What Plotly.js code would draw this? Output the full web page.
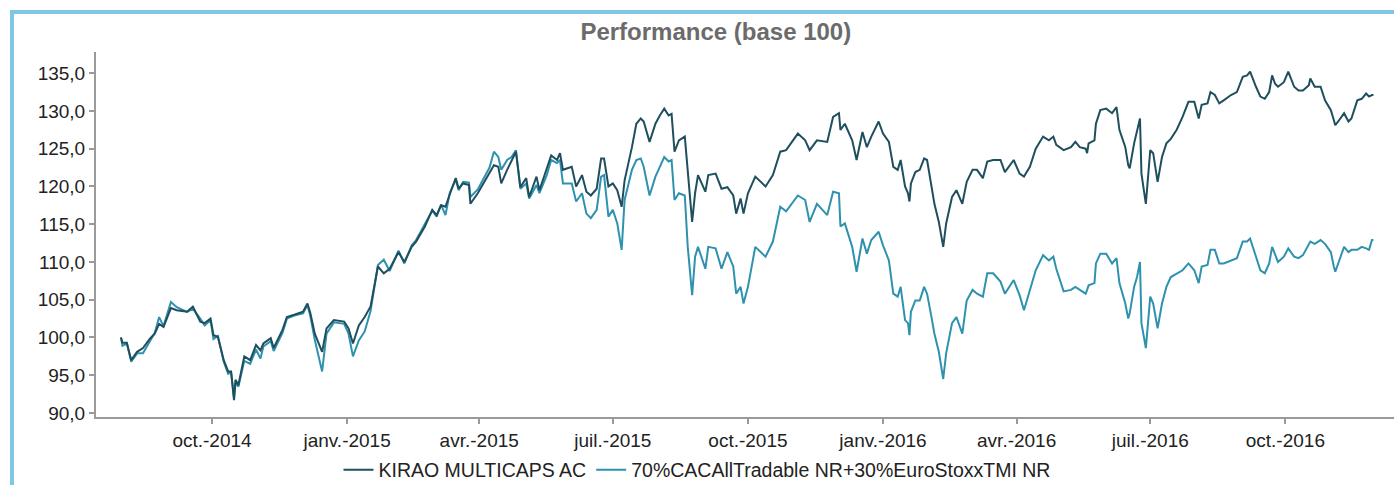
<!DOCTYPE html>
<html>
<head>
<meta charset="utf-8">
<script src="https://cdn.plot.ly/plotly-3.0.1.min.js"></script>
<style>
  html, body { margin: 0; padding: 0; background: #ffffff; }
  #wrap { position: relative; width: 1394px; height: 485px; overflow: hidden; }
  #chart { position: absolute; left: 0; top: 0; width: 1394px; height: 485px; }
  #frame { position: absolute; left: 10px; top: 10px; width: 1400px; height: 490px;
           border-left: 4px solid #80c8e2; border-top: 4px solid #80c8e2; pointer-events: none; }
</style>
</head>
<body>
<div id="wrap">
  <div id="chart"></div>
  <div id="frame"></div>
</div>
<script>
const titleText = "Performance (base 100)";
const seriesNames = ["KIRAO MULTICAPS AC", "70%CACAllTradable NR+30%EuroStoxxTMI NR"];

const dates = [
"2014-07-31","2014-08-01","2014-08-04","2014-08-07","2014-08-11","2014-08-15","2014-08-20","2014-08-23","2014-08-26","2014-08-29",
"2014-09-03","2014-09-07","2014-09-14","2014-09-18","2014-09-23","2014-09-26","2014-09-30","2014-10-02","2014-10-05","2014-10-09",
"2014-10-12","2014-10-14","2014-10-16","2014-10-17","2014-10-19","2014-10-23","2014-10-27","2014-10-31","2014-11-03","2014-11-05",
"2014-11-10","2014-11-12","2014-11-18","2014-11-21","2014-11-26","2014-12-02","2014-12-05","2014-12-07","2014-12-10","2014-12-15",
"2014-12-18","2014-12-23","2014-12-30","2015-01-02","2015-01-05","2015-01-09","2015-01-13","2015-01-17","2015-01-22","2015-01-26",
"2015-01-30","2015-02-05","2015-02-09","2015-02-14","2015-02-17","2015-02-23","2015-02-28","2015-03-03","2015-03-06","2015-03-09",
"2015-03-12","2015-03-16","2015-03-18","2015-03-21","2015-03-25","2015-03-26","2015-03-31","2015-04-08","2015-04-11","2015-04-14",
"2015-04-16","2015-04-20","2015-04-23","2015-04-26","2015-04-29","2015-05-03","2015-05-05","2015-05-10","2015-05-12","2015-05-17",
"2015-05-20","2015-05-24","2015-05-26","2015-05-28","2015-06-03","2015-06-06","2015-06-10","2015-06-13","2015-06-16","2015-06-20",
"2015-06-23","2015-06-25","2015-06-28","2015-07-01","2015-07-04","2015-07-07","2015-07-09","2015-07-14","2015-07-17","2015-07-20",
"2015-07-22","2015-07-26","2015-07-30","2015-08-02","2015-08-05","2015-08-08","2015-08-10","2015-08-12","2015-08-15","2015-08-19",
"2015-08-21","2015-08-24","2015-08-26","2015-08-28","2015-09-02","2015-09-04","2015-09-09","2015-09-13","2015-09-17","2015-09-21",
"2015-09-23","2015-09-26","2015-09-28","2015-10-01","2015-10-06","2015-10-13","2015-10-18","2015-10-23","2015-10-27","2015-11-04",
"2015-11-09","2015-11-12","2015-11-17","2015-11-24","2015-11-28","2015-12-02","2015-12-03","2015-12-06","2015-12-11","2015-12-14",
"2015-12-18","2015-12-21","2015-12-24","2015-12-29","2016-01-01","2016-01-05","2016-01-08","2016-01-11","2016-01-13","2016-01-16",
"2016-01-18","2016-01-19","2016-01-20","2016-01-23","2016-01-26","2016-01-29","2016-01-31","2016-02-03","2016-02-05","2016-02-08",
"2016-02-11","2016-02-13","2016-02-17","2016-02-20","2016-02-24","2016-02-27","2016-03-02","2016-03-05","2016-03-09","2016-03-12",
"2016-03-16","2016-03-21","2016-03-24","2016-03-30","2016-04-03","2016-04-06","2016-04-10","2016-04-14","2016-04-19","2016-04-23",
"2016-04-26","2016-04-28","2016-05-03","2016-05-08","2016-05-11","2016-05-14","2016-05-18","2016-05-19","2016-05-20","2016-05-24",
"2016-05-25","2016-05-28","2016-06-01","2016-06-05","2016-06-08","2016-06-10","2016-06-14","2016-06-16","2016-06-17","2016-06-20",
"2016-06-22","2016-06-24","2016-06-25","2016-06-28","2016-07-01","2016-07-03","2016-07-06","2016-07-09","2016-07-12","2016-07-15",
"2016-07-19","2016-07-23","2016-07-27","2016-07-31","2016-08-03","2016-08-05","2016-08-09","2016-08-11","2016-08-14","2016-08-17",
"2016-08-20","2016-08-25","2016-08-29","2016-09-02","2016-09-05","2016-09-07","2016-09-11","2016-09-14","2016-09-17","2016-09-20",
"2016-09-22","2016-09-24","2016-09-26","2016-09-30","2016-10-03","2016-10-07","2016-10-10","2016-10-13","2016-10-17","2016-10-18",
"2016-10-21","2016-10-25","2016-10-28","2016-11-01","2016-11-03","2016-11-04","2016-11-06","2016-11-10","2016-11-13","2016-11-15",
"2016-11-19","2016-11-22","2016-11-25","2016-11-27","2016-11-29","2016-11-30"
];

const kirao = [
100.0,99.3,99.3,97.0,98.1,98.6,99.9,100.5,101.8,101.4,
103.9,103.6,103.4,104.1,102.1,101.9,102.5,100.3,100.1,97.0,
95.5,95.5,91.7,94.4,93.7,97.5,97.0,99.0,98.3,99.2,
99.9,98.6,101.0,102.7,103.0,103.4,104.5,103.2,100.5,98.1,
101.2,102.3,102.1,101.2,99.2,101.6,102.7,104.1,109.4,108.5,
109.1,111.3,110.0,112.0,112.7,114.7,116.9,116.2,117.5,117.3,
119.0,121.1,119.7,120.4,120.2,117.7,119.1,121.7,122.8,122.6,
120.4,122.2,123.5,124.6,119.9,121.1,118.6,121.3,119.5,122.2,
124.1,123.5,124.4,122.2,122.6,120.0,121.5,119.3,118.8,119.7,
123.7,123.7,120.0,120.4,119.5,117.3,120.8,125.2,128.3,129.0,
128.6,125.9,128.3,129.4,130.3,129.4,129.6,124.6,126.1,126.6,
122.2,115.3,119.1,121.5,119.3,121.5,121.7,119.7,119.9,118.8,
116.4,118.4,116.4,119.1,121.3,120.0,121.5,124.6,124.8,127.0,
126.1,124.8,126.1,125.9,129.2,129.7,127.5,128.3,126.1,123.5,
127.2,125.2,126.6,128.6,127.0,125.9,122.6,122.2,123.5,120.0,
119.1,118.0,120.4,121.9,122.2,123.7,123.5,120.2,117.7,115.3,
112.0,115.1,118.6,119.5,117.7,120.6,122.2,122.2,121.1,123.3,
123.5,123.5,121.9,123.5,121.7,121.3,122.6,125.0,126.6,126.1,
126.6,125.5,124.8,125.2,125.9,125.2,125.0,124.4,125.7,126.1,
128.3,130.1,130.3,129.7,130.5,127.5,125.2,122.8,122.4,125.7,
127.5,129.0,121.7,117.7,124.8,124.4,120.6,123.9,125.7,126.3,
127.5,129.2,131.2,131.2,129.0,130.8,131.0,132.5,132.1,131.0,
131.4,132.1,132.5,134.5,134.7,135.2,133.2,131.9,131.6,132.5,
134.7,133.6,133.2,133.8,135.2,133.2,132.7,132.7,133.4,134.3,
133.2,133.2,131.4,130.1,128.8,128.1,128.6,129.7,128.6,129.0,
131.4,131.6,132.3,131.9,132.1,132.1
];

const benchmark = [
100.0,98.9,99.2,96.8,97.9,97.9,99.6,100.6,102.7,101.5,
104.7,104.0,103.4,103.8,102.5,101.6,102.3,99.8,100.2,96.8,
95.2,95.4,92.0,94.0,93.5,96.9,96.5,98.4,97.2,98.8,
99.5,98.2,100.6,102.5,102.9,103.2,104.3,102.8,99.7,95.5,
100.5,102.0,101.8,100.5,97.5,99.6,100.8,103.5,109.6,110.3,
108.8,111.5,109.8,112.2,112.9,115.0,116.8,116.0,117.6,116.2,
119.2,120.9,119.5,120.6,120.5,118.6,119.6,122.5,124.6,123.9,
122.2,123.5,123.9,124.8,119.7,120.4,118.4,120.2,119.1,121.5,
123.5,123.1,123.5,120.4,120.4,118.0,119.1,116.4,115.8,116.9,
121.3,121.5,116.0,116.9,115.1,111.6,118.2,122.2,123.5,123.7,
122.6,118.8,121.3,122.6,123.9,123.3,123.5,118.2,119.1,118.8,
112.0,105.6,110.7,112.0,109.1,112.0,111.8,109.1,111.3,109.4,
105.8,106.7,104.5,106.7,112.0,110.7,112.7,117.3,116.7,118.8,
118.2,115.3,117.7,116.2,119.3,119.1,114.7,115.1,112.0,108.7,
113.1,111.1,112.9,114.0,112.2,110.2,105.8,105.4,106.7,102.3,
101.9,100.3,103.4,104.9,104.9,106.7,105.8,102.7,100.5,98.1,
94.5,97.9,101.9,102.7,100.5,104.9,106.3,105.8,105.4,108.5,
108.5,107.4,105.8,107.6,105.6,103.6,106.3,108.9,110.9,110.2,
110.7,109.1,106.1,106.3,106.7,106.3,105.8,106.3,106.9,107.2,
109.8,111.1,111.1,109.8,110.5,107.2,104.5,102.5,103.2,106.7,
108.0,110.0,101.9,98.6,105.4,104.5,101.2,104.5,106.7,108.0,
108.5,108.9,109.8,108.9,107.2,109.4,109.6,111.6,111.6,109.8,
109.8,110.2,110.5,112.7,112.7,113.1,110.7,108.9,108.5,109.8,
112.0,110.9,110.0,110.7,111.8,110.7,110.5,110.9,112.2,112.7,
112.4,112.9,112.4,111.3,109.4,108.7,109.8,112.0,111.3,111.6,
111.6,112.0,111.8,111.6,112.9,112.9
];

const tickDates = ["2014-10-01","2015-01-01","2015-04-01","2015-07-01","2015-10-01","2016-01-01","2016-04-01","2016-07-01","2016-10-01"];
const tickLabels = ["oct.-2014","janv.-2015","avr.-2015","juil.-2015","oct.-2015","janv.-2016","avr.-2016","juil.-2016","oct.-2016"];
const yTicks = [90,95,100,105,110,115,120,125,130,135];

const FONT = "'Liberation Sans', Arial, Helvetica, sans-serif";

const traces = [
  { x: dates, y: benchmark, name: seriesNames[1], type: "scatter", mode: "lines",
    line: { color: "#2e92ae", width: 2 }, legendrank: 2 },
  { x: dates, y: kirao, name: seriesNames[0], type: "scatter", mode: "lines",
    line: { color: "#1f4f5f", width: 2 }, legendrank: 1 }
];

const layout = {
  width: 1394, height: 485,
  margin: { l: 96, r: 0, t: 52, b: 68, pad: 0 },
  paper_bgcolor: "#ffffff", plot_bgcolor: "#ffffff",
  separators: ", ",
  font: { family: FONT, size: 19, color: "#222222" },
  title: { text: "<b>" + titleText + "</b>", font: { family: FONT, size: 24, color: "#6b6b6b" },
           xref: "container", x: 0.5135, xanchor: "center", yref: "container", y: 1 - 32/485, yanchor: "middle" },
  xaxis: {
    type: "date", range: ["2014-07-14", "2016-12-14"],
    tickmode: "array", tickvals: tickDates, ticktext: tickLabels,
    showgrid: false, zeroline: false,
    showline: true, linecolor: "#9a9a9a", linewidth: 2,
    ticks: "outside", ticklen: 5, tickcolor: "#9a9a9a", tickwidth: 2,
    tickfont: { family: FONT, size: 19, color: "#222222" }
  },
  yaxis: {
    range: [89.47, 137.8],
    tickmode: "array", tickvals: yTicks, tickformat: ".1f",
    showgrid: false, zeroline: false,
    showline: true, linecolor: "#9a9a9a", linewidth: 2,
    ticks: "outside", ticklen: 5, tickcolor: "#9a9a9a", tickwidth: 2,
    tickfont: { family: FONT, size: 19, color: "#222222" }
  },
  showlegend: true,
  legend: { orientation: "h", xref: "container", x: 0.5, xanchor: "center",
            yref: "container", y: 1 - 470/485, yanchor: "middle",
            font: { family: FONT, size: 19.5, color: "#222222" }, bgcolor: "rgba(0,0,0,0)" }
};

Plotly.newPlot("chart", traces, layout, { displayModeBar: false, staticPlot: true });
</script>
</body>
</html>
